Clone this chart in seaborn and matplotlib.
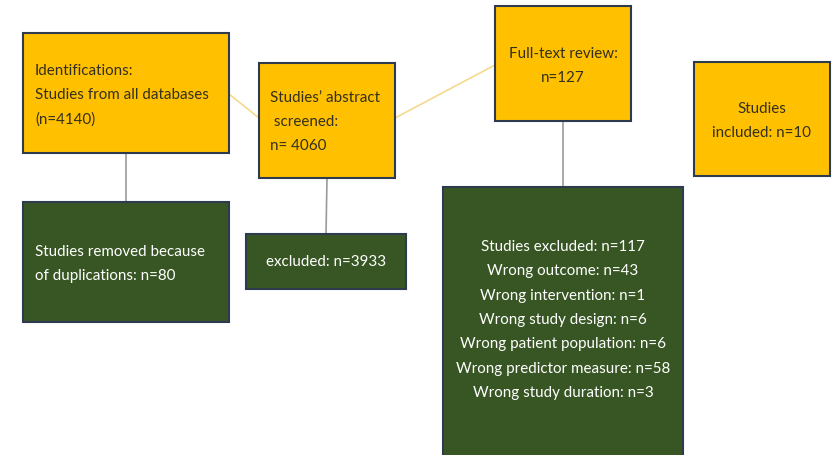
"""PRISMA-style flow diagram of study selection."""

import matplotlib

matplotlib.use("Agg")
import matplotlib.pyplot as plt
import seaborn as sns
from matplotlib.patches import Rectangle

# stage boxes (yellow) and exclusion boxes (green)
stage_labels = [
    "Identifications:\nStudies from all databases\n(n=4140)",
    "Studies\u2019 abstract\n screened:\nn= 4060",
    "Full-text review:\nn=127",
    "Studies\nincluded: n=10",
]
exclusion_labels = [
    "Studies removed because\nof duplications: n=80",
    "excluded: n=3933",
]
reasons = [
    "Studies excluded",
    "Wrong outcome",
    "Wrong intervention",
    "Wrong study design",
    "Wrong patient population",
    "Wrong predictor measure",
    "Wrong study duration",
]
reason_counts = [117, 43, 1, 6, 6, 58, 3]

YELLOW = "#FFC000"
GREEN = "#375623"
EDGE = "#2E3B4E"

# layout in pixel units: (x0, y0, x1, y1)
stage_boxes = [(23, 33, 229, 153), (259, 63, 395, 178), (495, 6, 631, 121), (694, 62, 830, 176)]
excl_boxes = [(23, 202, 229, 322), (246, 234, 406, 289), (443, 187, 683, 458)]

sns.set_theme(style="white")
plt.rcParams["font.family"] = ["Lato", "DejaVu Sans"]

fig = plt.figure(figsize=(8.33, 4.55), dpi=100)
ax = fig.add_axes([0, 0, 1, 1])
ax.set_xlim(0, 833)
ax.set_ylim(455, 0)
ax.axis("off")


def draw_box(box, color, zorder=2):
    x0, y0, x1, y1 = box
    ax.add_patch(Rectangle((x0, y0), x1 - x0, y1 - y0, facecolor=color,
                           edgecolor=EDGE, linewidth=1.5, zorder=zorder))


# connectors
ax.plot([229, 259], [94, 118], color="#F5D98E", lw=1.2, zorder=1)
ax.plot([395, 495], [118, 65], color="#F5D98E", lw=1.2, zorder=1)
ax.plot([126, 126], [153, 202], color="#9A9A9A", lw=1.2, zorder=1)
ax.plot([327, 326], [178, 234], color="#9A9A9A", lw=1.2, zorder=1)
ax.plot([563, 563], [121, 187], color="#9A9A9A", lw=1.2, zorder=1)

for box in stage_boxes:
    draw_box(box, YELLOW)
for box in excl_boxes:
    draw_box(box, GREEN)

text_kw = dict(fontsize=10.9, linespacing=1.9, zorder=3)
dark = "#33301F"
# stage texts
ax.text(35, 95, stage_labels[0], ha="left", va="center", color=dark, **text_kw)
ax.text(270, 122, stage_labels[1], ha="left", va="center", color=dark, **text_kw)
ax.text(563, 66, stage_labels[2], ha="center", va="center", color=dark, **text_kw)
ax.text(762, 121, stage_labels[3], ha="center", va="center", color=dark, **text_kw)

# exclusion texts
ax.text(35, 264, exclusion_labels[0], ha="left", va="center", color="white", **text_kw)
ax.text(326, 262, exclusion_labels[1], ha="center", va="center", color="white", **text_kw)
reason_text = "\n".join(f"{r}: n={c}" for r, c in zip(reasons, reason_counts))
ax.text(563, 320, reason_text, ha="center", va="center", color="white",
        fontsize=10.9, linespacing=1.95, zorder=3)

fig.savefig("out.png", dpi=100, facecolor="white")
